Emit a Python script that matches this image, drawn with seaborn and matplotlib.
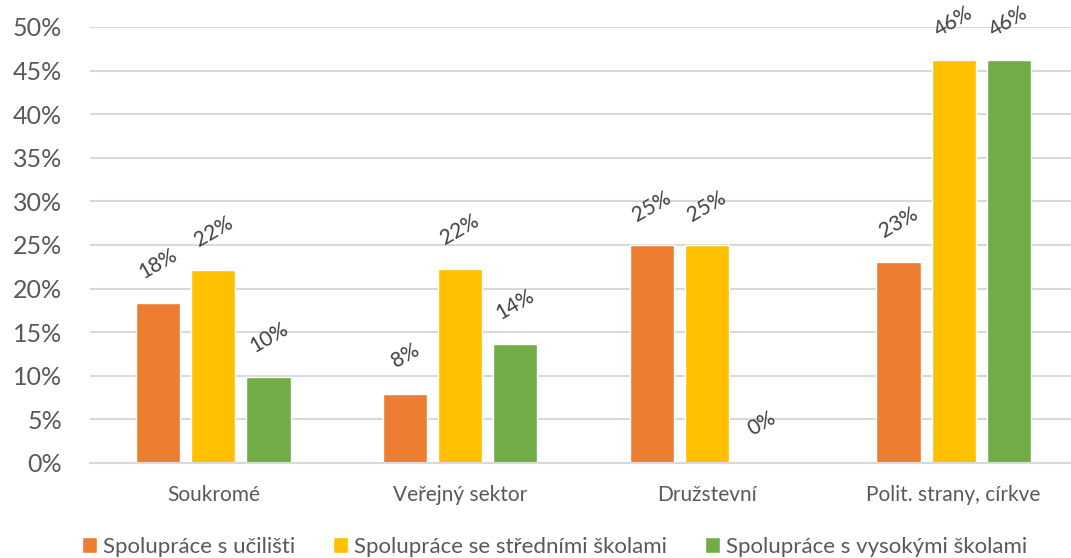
import matplotlib
matplotlib.use("Agg")
import matplotlib.pyplot as plt
from matplotlib.patches import Patch
from matplotlib.ticker import FuncFormatter
import seaborn as sns
import pandas as pd

# data (procenta)
kategorie = ["Soukromé", "Veřejný sektor", "Družstevní", "Polit. strany, církve"]
serie = ["Spolupráce s učilišti", "Spolupráce se středními školami", "Spolupráce s vysokými školami"]
ucilste = [18.4, 7.9, 25.0, 23.1]
stredni = [22.1, 22.3, 25.0, 46.2]
vysoke = [9.9, 13.7, 0.0, 46.2]
barvy = ["#ED7D31", "#FFC000", "#70AD47"]

df = pd.DataFrame({
    "kategorie": kategorie * 3,
    "serie": [serie[0]] * 4 + [serie[1]] * 4 + [serie[2]] * 4,
    "hodnota": ucilste + stredni + vysoke,
})

sns.set_style("white")
plt.rcParams["font.family"] = ["Lato", "DejaVu Sans"]

fig = plt.figure(figsize=(10.71, 5.58), dpi=100)
ax = fig.add_axes([90 / 1071, 95 / 558, 987 / 1071, 436 / 558])

sns.barplot(data=df, x="kategorie", y="hodnota", hue="serie", palette=barvy,
            width=0.67, gap=0.2, ax=ax, legend=False, saturation=1)

ax.set_ylim(0, 50)
ax.set_yticks(range(0, 51, 5))
ax.yaxis.set_major_formatter(FuncFormatter(lambda v, p: f"{int(v)}%"))
ax.grid(axis="y", color="#D9D9D9", linewidth=1.5)
ax.set_axisbelow(True)
for s in ["left", "right", "top"]:
    ax.spines[s].set_visible(False)
ax.spines["bottom"].set_color("#D9D9D9")
ax.spines["bottom"].set_linewidth(1.5)
ax.tick_params(axis="y", length=0, pad=20, labelsize=18, labelcolor="#595959")
ax.tick_params(axis="x", length=0, pad=16, labelsize=15, labelcolor="#595959")
ax.set_xlabel("")
ax.set_ylabel("")

# popisky hodnot
for cont in ax.containers:
    for bar in cont:
        h = bar.get_height()
        ax.annotate(f"{round(h)}%", (bar.get_x() + bar.get_width() / 2, h),
                    xytext=(0, 28), textcoords="offset points",
                    ha="center", va="center", rotation=30,
                    fontsize=15, color="#404040")

handles = [Patch(facecolor=c, label=l) for c, l in zip(barvy, serie)]
fig.legend(handles=handles, loc="center", bbox_to_anchor=(0.518, 0.02), ncol=3,
           frameon=False, fontsize=16, handlelength=0.68, handleheight=0.68,
           handletextpad=0.27, columnspacing=1.7, labelcolor="#595959")

fig.savefig("out.png", dpi=100)
